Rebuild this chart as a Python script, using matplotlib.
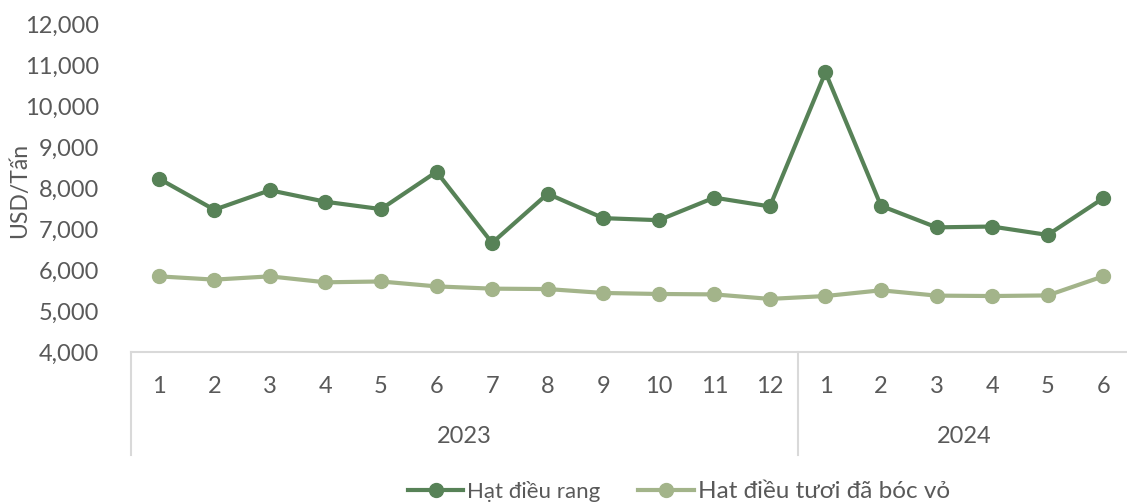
import matplotlib.pyplot as plt
from matplotlib import transforms

plt.rcParams['font.family'] = ['Lato', 'DejaVu Sans']

# data
months = ['1', '2', '3', '4', '5', '6', '7', '8', '9', '10', '11', '12',
          '1', '2', '3', '4', '5', '6']
years = ['2023', '2024']
year_sizes = [12, 6]
hat_dieu_rang = [8230, 7470, 7945, 7665, 7485, 8395, 6660, 7860, 7265, 7215,
                 7765, 7550, 10820, 7565, 7040, 7060, 6855, 7750]
hat_dieu_tuoi = [5845, 5765, 5845, 5700, 5720, 5600, 5545, 5535, 5440, 5415,
                 5405, 5295, 5365, 5505, 5375, 5365, 5380, 5845]

DARK = '#578257'
LIGHT = '#A3B48A'
TEXT = '#595959'
AXIS = '#D9D9D9'

fig = plt.figure(figsize=(11.27, 5.03), dpi=100)
ax = fig.add_axes([131 / 1127, 151 / 503, 1000 / 1127, 328 / 503])

x = list(range(len(months)))
l1, = ax.plot(x, hat_dieu_rang, color=DARK, lw=3, marker='o', ms=10,
              label='Hạt điều rang', clip_on=False, zorder=3)
l2, = ax.plot(x, hat_dieu_tuoi, color=LIGHT, lw=3, marker='o', ms=10,
              label='Hat điều tươi đã bóc vỏ', clip_on=False, zorder=3)

ax.set_xlim(-0.5, len(months) - 0.5)
ax.set_ylim(4000, 12000)
ax.set_yticks(range(4000, 12001, 1000))
ax.yaxis.set_major_formatter(plt.FuncFormatter(lambda v, p: f'{int(v):,}'))
ax.tick_params(axis='y', length=0, pad=23, labelsize=17, labelcolor=TEXT)

for s in ['top', 'right', 'left']:
    ax.spines[s].set_visible(False)
ax.spines['bottom'].set_color(AXIS)
ax.spines['bottom'].set_linewidth(1.5)

# two-level category axis: months then years
ax.set_xticks(x)
ax.set_xticklabels([])
ax.tick_params(axis='x', length=0)
trans = transforms.blended_transform_factory(ax.transData, ax.transAxes)
for i, m in enumerate(months):
    ax.text(i, -0.104, m, transform=trans, ha='center', va='center',
            fontsize=17, color=TEXT)

start = 0
for yr, n in zip(years, year_sizes):
    ax.plot([start - 0.5, start - 0.5], [0, -0.314], transform=trans,
            color=AXIS, lw=1.5, clip_on=False)
    ax.text(start + (n - 1) / 2, -0.259, yr, transform=trans, ha='center',
            va='center', fontsize=17, color=TEXT)
    start += n
ax.plot([start - 0.5, start - 0.5], [0, -0.314], transform=trans,
        color=AXIS, lw=1.5, clip_on=False)

fig.text(20 / 1127, 1 - 190 / 503, 'USD/Tấn', rotation=90, ha='center',
         va='center', fontsize=16.5, color=TEXT)

leg = fig.legend(handles=[l1, l2], loc='center', ncol=2,
                 bbox_to_anchor=(679 / 1127, 1 - 491 / 503), frameon=False,
                 handlelength=2.5, handletextpad=0.18, columnspacing=1.7,
                 fontsize=16)
texts = leg.get_texts()
texts[0].set_fontsize(16)
texts[1].set_fontsize(17.5)
for t in texts:
    t.set_color(TEXT)

plt.savefig('out.png', dpi=100)
